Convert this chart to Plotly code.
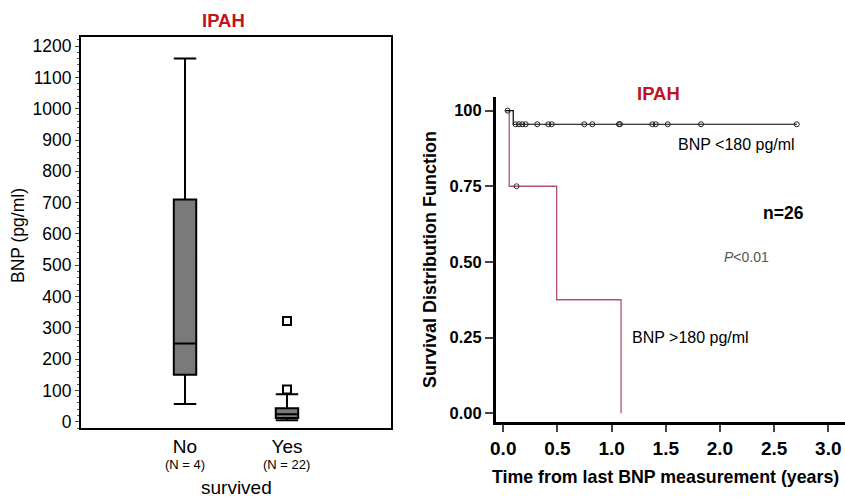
import plotly.graph_objects as go

# ---------------- data: box plot (BNP by survival) ----------------
groups = ["No", "Yes"]
group_pos = [1, 2]
group_n = ["(N = 4)", "(N = 22)"]
q1 = [150, 12]
median = [250, 24]
q3 = [710, 43]
lower_fence = [57, 5]
upper_fence = [1160, 88]
outlier_x = [2, 2]
outlier_y = [103, 322]
bnp_ticks = [0, 100, 200, 300, 400, 500, 600, 700, 800, 900, 1000, 1100, 1200]

# ---------------- data: Kaplan-Meier curves ----------------
low_t = [0.02, 0.092, 2.71]
low_s = [1.0, 0.955, 0.955]
low_cens_t = [0.04, 0.114, 0.145, 0.175, 0.207, 0.314, 0.416, 0.447, 0.748, 0.822,
              1.068, 1.077, 1.376, 1.407, 1.518, 1.825, 2.709]
low_cens_s = [1.0] + [0.955] * 16
high_t = [0.02, 0.055, 0.493, 1.087]
high_s = [1.0, 0.75, 0.375, 0.0]
high_cens_t = [0.123]
high_cens_s = [0.75]
km_xticks = [0.0, 0.5, 1.0, 1.5, 2.0, 2.5, 3.0]
km_xlabels = ["0.0", "0.5", "1.0", "1.5", "2.0", "2.5", "3.0"]
km_yticks = [0.0, 0.25, 0.5, 0.75, 1.0]
km_ylabels = ["0.00", "0.25", "0.50", "0.75", "100"]

W, H = 845, 499
FONT = "Liberation Sans, Arial, sans-serif"
RED_TITLE = "#c0141e"
KM_RED = "#b5506e"

fig = go.Figure()

# box plots
for i in range(len(groups)):
    fig.add_trace(go.Box(
        x=[group_pos[i]], q1=[q1[i]], median=[median[i]], q3=[q3[i]],
        lowerfence=[lower_fence[i]], upperfence=[upper_fence[i]],
        width=0.22, whiskerwidth=1, boxpoints=False,
        fillcolor="#7a7a7a", line=dict(color="black", width=2),
        xaxis="x", yaxis="y", showlegend=False, hoverinfo="skip"))

fig.add_trace(go.Scatter(
    x=outlier_x, y=outlier_y, mode="markers",
    marker=dict(symbol="square-open", size=8, color="black", line=dict(width=2)),
    xaxis="x", yaxis="y", showlegend=False))

# KM curves
fig.add_trace(go.Scatter(
    x=high_t, y=high_s, mode="lines", line=dict(color=KM_RED, width=1.3, shape="hv"),
    xaxis="x2", yaxis="y2", showlegend=False))
fig.add_trace(go.Scatter(
    x=high_cens_t, y=high_cens_s, mode="markers",
    marker=dict(symbol="circle-open", size=5, color="#333", line=dict(width=1)),
    xaxis="x2", yaxis="y2", showlegend=False))
fig.add_trace(go.Scatter(
    x=low_t, y=low_s, mode="lines", line=dict(color="black", width=1.2, shape="hv"),
    xaxis="x2", yaxis="y2", showlegend=False))
fig.add_trace(go.Scatter(
    x=low_cens_t, y=low_cens_s, mode="markers",
    marker=dict(symbol="circle-open", size=5, color="#222", line=dict(width=1)),
    xaxis="x2", yaxis="y2", showlegend=False))

# layout
L_x0, L_x1 = 81 / W, 391 / W
L_y0, L_y1 = 1 - 428 / H, 1 - 36.7 / H
R_x0, R_x1 = 496 / W, 1.0
R_y0, R_y1 = 1 - 421.7 / H, 1 - 96.7 / H

fig.update_layout(
    width=W, height=H,
    margin=dict(l=0, r=0, t=0, b=0, autoexpand=False),
    paper_bgcolor="white", plot_bgcolor="white",
    font=dict(family=FONT, color="black"),
    xaxis=dict(domain=[L_x0, L_x1], range=[-0.02, 3.02], automargin=False,
               tickvals=group_pos, ticktext=groups, ticks="",
               tickfont=dict(size=19), showgrid=False, zeroline=False,
               showline=True, linecolor="black", linewidth=2, mirror=True,
               fixedrange=True),
    yaxis=dict(domain=[L_y0, L_y1], range=[-20, 1230], automargin=False,
               tickvals=bnp_ticks, ticks="outside", ticklen=4, tickwidth=1,
               tickfont=dict(size=17.5), showgrid=False, zeroline=False,
               showline=True, linecolor="black", linewidth=2, mirror=True,
               minor=dict(dtick=20, ticks="outside", ticklen=2, tickcolor="#555")),
    xaxis2=dict(domain=[R_x0, R_x1], range=[-0.067, 3.154], anchor="y2", automargin=False,
                tickvals=km_xticks, ticktext=km_xlabels,
                ticks="outside", ticklen=7, tickwidth=2,
                tickfont=dict(size=19, weight="bold"),
                showgrid=False, zeroline=False,
                showline=True, linecolor="black", linewidth=3),
    yaxis2=dict(domain=[R_y0, R_y1], range=[-0.028, 1.046], anchor="x2", automargin=False,
                tickvals=km_yticks, ticktext=km_ylabels,
                ticks="outside", ticklen=8, tickwidth=2,
                tickfont=dict(size=16.5, weight="bold"),
                showgrid=False, zeroline=False,
                showline=True, linecolor="black", linewidth=3),
)

def pa(text, x, y, size, color="black", angle=0):
    return dict(text=text, x=x / W, y=1 - y / H, xref="paper", yref="paper",
                xanchor="center", yanchor="middle",
                showarrow=False, textangle=angle, font=dict(size=size, color=color))

ann = []
ann.append(pa("<b>IPAH</b>", 223, 20.7, 18.5, RED_TITLE))
ann.append(pa("<b>IPAH</b>", 658, 93.3, 18.5, RED_TITLE))
for i in range(len(groups)):
    ann.append(dict(text=group_n[i], x=group_pos[i], xref="x", y=1 - 464.5 / H, yref="paper",
                    xanchor="center", yanchor="middle",
                    showarrow=False, font=dict(size=13)))
ann.append(pa("survived", (81 + 391) / 2, 487.5, 19))
ann.append(pa("BNP (pg/ml)", 18, 236, 17.5, angle=-90))
ann.append(pa("<b>Survival Distribution Function</b>", 430, 260, 18, angle=-90))
ann.append(pa("<b>Time from last BNP measurement (years)</b>", 665, 476.7, 17.8))
ann.append(pa("BNP <180 pg/ml", 736.7, 145, 16))
ann.append(pa("BNP >180 pg/ml", 690, 337.3, 16))
ann.append(pa("<b>n=26</b>", 783, 212.7, 17.5))
ann.append(pa("<i>P</i><0.01", 746.7, 256.7, 14, "#555"))
fig.update_layout(annotations=ann)

fig.write_html(
    "out.html",
    config={"displayModeBar": False},
    post_script="document.body.style.margin='0';document.body.style.overflow='hidden';",
)
